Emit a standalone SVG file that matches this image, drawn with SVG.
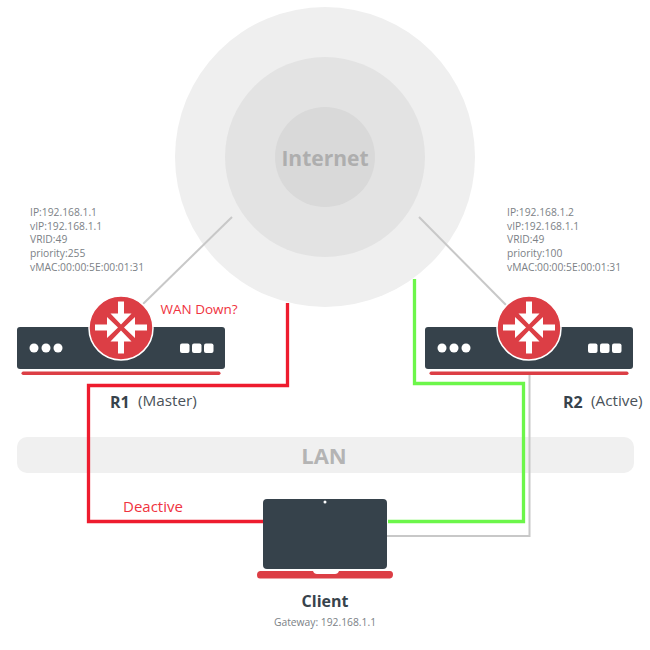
<svg xmlns="http://www.w3.org/2000/svg" width="650" height="650" viewBox="0 0 650 650">
<style>
.info{font-family:"Open Sans","Noto Sans",sans-serif;font-size:10.300px;fill:#7b8186}
.name{font-family:"Open Sans","Noto Sans",sans-serif;font-size:16px;font-weight:700;fill:#37434c}
.role{font-family:"Open Sans","Noto Sans",sans-serif;font-size:15.300px;fill:#4a5259}
.red{font-family:"Open Sans","Noto Sans",sans-serif;font-size:13.500px;fill:#ef3340}
.body{fill:#36424b}
.bar{fill:#dc3e45}
.dot{fill:#fff}
.wire{fill:none;stroke-linejoin:miter}
</style>
<defs>
<g id="router">
<rect class="body" x="0" y="0" width="208" height="42" rx="3"/>
<rect class="bar" x="4.500" y="44.500" width="199" height="3.500" rx="1.700"/>
<circle class="dot" cx="17" cy="21" r="4.500"/><circle class="dot" cx="29" cy="21" r="4.500"/><circle class="dot" cx="41" cy="21" r="4.500"/>
<rect class="dot" x="163" y="16.500" width="9.500" height="9.500" rx="2"/><rect class="dot" x="175" y="16.500" width="9.500" height="9.500" rx="2"/><rect class="dot" x="187" y="16.500" width="9.500" height="9.500" rx="2"/>
<circle cx="104" cy="1" r="32" fill="#dc3e45" stroke="#fff" stroke-width="1.500"/>
<g fill="#fff" transform="translate(104 0.500)">
<path id="arrow" d="M-3 -26h6v12h7.500l-10.500 11l-10.500-11h7.500z"/>
<path d="M-3 26h6v-12h7.500l-10.500-11l-10.500 11h7.500z"/>
<path d="M-26 -3v6h12v7.500l11-10.500l-11-10.500v7.500z"/>
<path d="M26 -3v6h-12v7.500l-11-10.500l11-10.500v7.500z"/>
</g>
</g>
</defs>
<g id="internet">
<circle cx="325" cy="157" r="150" fill="#efefef"/>
<circle cx="325" cy="157" r="100" fill="#e3e3e3"/>
<circle cx="325" cy="157" r="50" fill="#d9d9d9"/>
<text x="325" y="166" text-anchor="middle" font-family="'Open Sans','Noto Sans',sans-serif" font-size="21" font-weight="700" fill="#aeaeae">Internet</text>
</g>
<g id="lan">
<rect x="17" y="437" width="617" height="36" rx="10" fill="#f0f0f0"/>
<text x="324" y="464" text-anchor="middle" font-family="'Open Sans','Noto Sans',sans-serif" font-size="22" font-weight="700" fill="#b4b4b4">LAN</text>
</g>
<g id="connectors" class="wire">
<path d="M232 217L143 304" stroke="#c8c8c8" stroke-width="2"/>
<path d="M419 217L507 306" stroke="#c8c8c8" stroke-width="2"/>
<path d="M529.500 375V536H387" stroke="#c8c8c8" stroke-width="2"/>
<path d="M287.500 303V385.500H88.500V521.500H263" stroke="#ee1c2e" stroke-width="3.300"/>
<path d="M414.500 279V383.500H523.500V521.500H388" stroke="#6cf64a" stroke-width="3.300"/>
</g>
<g id="r1">
<use href="#router" x="17" y="327"/>
<text class="info" x="30" y="216">IP:192.168.1.1</text>
<text class="info" x="30" y="230">vIP:192.168.1.1</text>
<text class="info" x="30" y="243">VRID:49</text>
<text class="info" x="30" y="257">priority:255</text>
<text class="info" x="30" y="271">vMAC:00:00:5E:00:01:31</text>
<text class="red" x="160.500" y="314">WAN Down?</text>
<text class="name" x="110" y="408">R1</text>
<text class="role" x="138" y="406">(Master)</text>
</g>
<g id="r2">
<use href="#router" x="425" y="327"/>
<text class="info" x="507" y="216">IP:192.168.1.2</text>
<text class="info" x="507" y="230">vIP:192.168.1.1</text>
<text class="info" x="507" y="243">VRID:49</text>
<text class="info" x="507" y="257">priority:100</text>
<text class="info" x="507" y="271">vMAC:00:00:5E:00:01:31</text>
<text class="name" x="563" y="408">R2</text>
<text class="role" x="591" y="406">(Active)</text>
</g>
<g id="client">
<rect class="body" x="263" y="499" width="124" height="70" rx="4"/>
<circle class="dot" cx="325" cy="502" r="1.500"/>
<path class="bar" d="M260 571H313q1 3 4 3H335q3 0 4-3H390q3 0 3 3.500T390 578.500H260q-3 0-3-3.500T260 571z"/>
<text class="name" x="325" y="607" text-anchor="middle">Client</text>
<text class="info" x="325" y="626" text-anchor="middle">Gateway: 192.168.1.1</text>
</g>
<text class="red" x="123" y="512" style="font-size:15px">Deactive</text>
</svg>
